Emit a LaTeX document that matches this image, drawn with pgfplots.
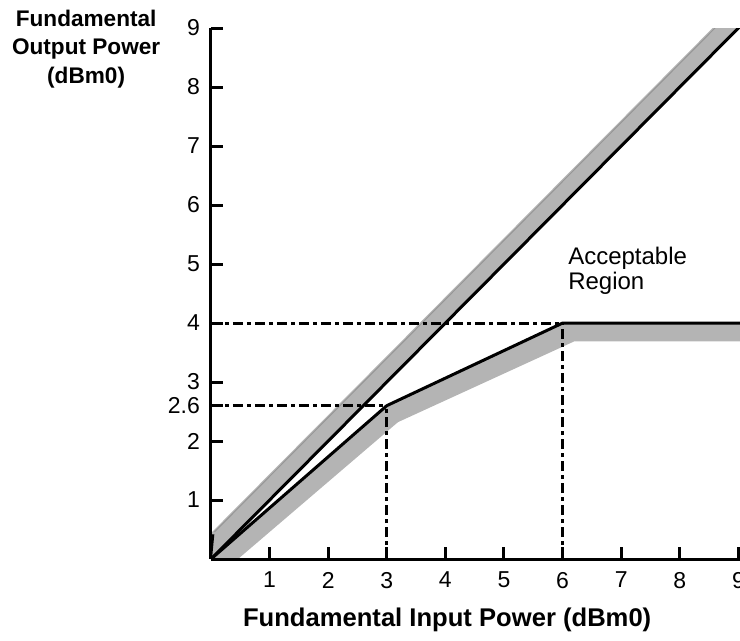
\documentclass[border=0pt]{standalone}
\usepackage{fontspec}
\setmainfont{Liberation Sans}
\usepackage{pgfplots}
\pgfplotsset{compat=1.18}
\definecolor{band}{RGB}{180,180,180}
\definecolor{bandedge}{RGB}{150,150,150}
\begin{document}
\begin{tikzpicture}
\begin{axis}[
  x=29.3pt, y=29.5pt,
  xmin=0, xmax=9.03, ymin=0, ymax=9,
  enlargelimits=false,
  axis lines=left,
  axis line style={-, line width=1.5pt},
  clip mode=individual,
  axis on top,
  xtick={1,2,3,4,5,6,7,8,9},
  ytick={1,2,2.6,3,4,5,6,7,8,9},
  yticklabels={1,2,2.6,3,4,5,6,7,8,9},
  tick align=inside,
  major tick length=6pt,
  tick style={line width=1.5pt, black},
  /pgf/number format/assume math mode=true,
  tick label style={font=\fontsize{11.5}{13}\selectfont},
  xticklabel style={yshift=-3pt},
  yticklabel style={xshift=-2pt},
]
% gray tolerance bands
\addplot[fill=band, draw=none] coordinates {(0,0) (0,0.44) (9.3,9.74) (9.3,9.3)} -- cycle;
\addplot[fill=band, draw=none] coordinates {(0,0) (3,2.6) (6,4) (9.5,4) (9.5,3.69) (6.2,3.69) (3.19,2.32) (0.46,0)} -- cycle;
\addplot[bandedge, line width=0.5pt] coordinates {(0.06,0.46) (9.3,9.70)};
% dash-dot reference lines
\addplot[black, line width=1.5pt, dash pattern=on 5pt off 2pt on 2pt off 2pt] coordinates {(0,4) (6,4)};
\addplot[black, line width=1.5pt, dash pattern=on 5pt off 2pt on 2pt off 2pt] coordinates {(6,0) (6,4)};
\addplot[black, line width=1.5pt, dash pattern=on 5pt off 2pt on 2pt off 2pt] coordinates {(0,2.6) (3,2.6)};
\addplot[black, line width=1.5pt, dash pattern=on 5pt off 2pt on 2pt off 2pt] coordinates {(3,0) (3,2.6)};
% black curves
\addplot[black, line width=1.5pt] coordinates {(0,0) (9.3,9.3)};
\addplot[black, line width=1.5pt] coordinates {(0,0) (3,2.6) (6,4) (9.5,4)};
\addplot[black, line width=1pt] coordinates {(0,0) (0.04,0.42)};
% texts
\node[anchor=west, align=left, inner sep=0pt, font=\fontsize{12}{12.5}\selectfont] at (axis cs:6.09,4.89) {Acceptable\\Region};
\node[anchor=center, inner sep=0pt, font=\fontsize{12.8}{15}\selectfont\bfseries] at (axis cs:4.03,-1.036) {Fundamental Input Power (dBm0)};
\node[anchor=north, align=center, inner sep=0pt, font=\fontsize{11.3}{14.2}\selectfont\bfseries] at (axis cs:-2.13,9.31) {Fundamental\\Output Power\\(dBm0)};
\coordinate (bl) at (axis cs:-3.60,-1.373);
\coordinate (tr) at (axis cs:9.027,9.475);
\end{axis}
\pgfresetboundingbox
\useasboundingbox (bl) rectangle (tr);
\end{tikzpicture}
\end{document}
